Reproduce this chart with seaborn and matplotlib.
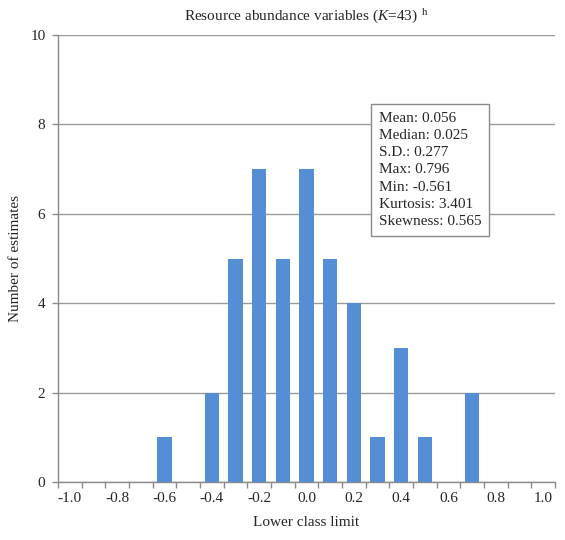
import matplotlib
matplotlib.use("Agg")
import matplotlib.pyplot as plt
import seaborn as sns
import pandas as pd
import numpy as np

categories = ["-1.0", "-0.9", "-0.8", "-0.7", "-0.6", "-0.5", "-0.4", "-0.3", "-0.2", "-0.1",
              "0.0", "0.1", "0.2", "0.3", "0.4", "0.5", "0.6", "0.7", "0.8", "0.9", "1.0"]
counts = [0, 0, 0, 0, 1, 0, 2, 5, 7, 5, 7, 5, 4, 1, 3, 1, 0, 2, 0, 0, 0]
stats_text = ["Mean: 0.056", "Median: 0.025", "S.D.: 0.277", "Max: 0.796",
              "Min: -0.561", "Kurtosis: 3.401", "Skewness: 0.565"]

sns.set_style("white")
plt.rcParams['font.family'] = ['Liberation Serif', 'DejaVu Serif']
plt.rcParams['mathtext.fontset'] = 'custom'
plt.rcParams['mathtext.rm'] = 'Liberation Serif'
plt.rcParams['mathtext.it'] = 'Liberation Serif:italic'

df = pd.DataFrame({"cat": categories, "n": counts})

fig = plt.figure(figsize=(5.65, 5.4), dpi=100)
ax = fig.add_axes([58/565, 1 - 482/540, (555-58)/565, (482-35)/540])

sns.barplot(data=df, x="cat", y="n", order=categories, color="#558ED5",
            saturation=1, width=0.6, linewidth=0, edgecolor="none", ax=ax, zorder=3)

ax.set_ylim(0, 10)
ax.set_xlim(-0.5, len(categories) - 0.5)
ax.set_yticks(range(0, 11, 2))
ax.yaxis.grid(True, color="#9a9a9a", linewidth=1, zorder=0)
ax.set_axisbelow(True)

# x ticks: marks at category boundaries, labels every other category
n = len(categories)
ax.set_xticks(np.arange(-0.5, n, 1.0))
ax.set_xticklabels([])
ax.set_xticks(np.arange(0, n, 2), minor=True)
ax.set_xticklabels(categories[::2], minor=True)
ax.tick_params(axis="x", which="major", length=4, width=1, color="#8a8a8a", direction="out", bottom=True)
ax.tick_params(axis="x", which="minor", length=0, labelsize=11, pad=7)
ax.tick_params(axis="y", length=4, width=1, color="#8a8a8a", direction="out", left=True, labelsize=11, pad=5)

for s in ["top", "right"]:
    ax.spines[s].set_visible(False)
for s in ["left", "bottom"]:
    ax.spines[s].set_color("#8a8a8a")
    ax.spines[s].set_linewidth(1)

ax.set_xlabel("Lower class limit", fontsize=11, labelpad=8)
ax.set_ylabel("Number of estimates", fontsize=11, labelpad=6)
ax.set_title(r"Resource abundance variables ($K$=43)$^{\ \ \mathrm{h}}$", fontsize=11, pad=10)

ax.text(0.645, 0.828, "\n".join(stats_text), transform=ax.transAxes, fontsize=11,
        va="top", ha="left", linespacing=1.42, zorder=5,
        bbox=dict(boxstyle="square,pad=0.5", facecolor="white", edgecolor="#8a8a8a", linewidth=1))

fig.savefig("out.png", dpi=100)
